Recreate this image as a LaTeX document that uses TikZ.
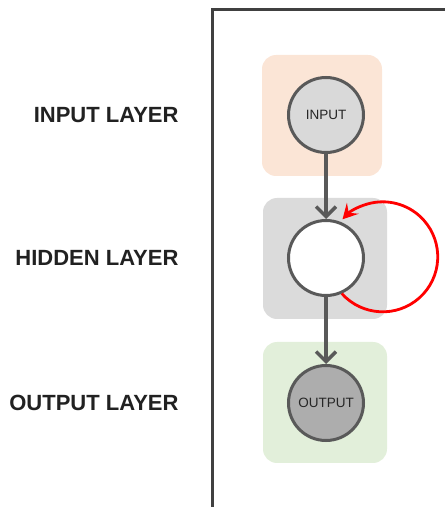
\documentclass[tikz,border=0pt]{standalone}
\usepackage{fontspec}
\setmainfont{Liberation Sans}
\usetikzlibrary{arrows.meta}

\definecolor{krawedz}{HTML}{595959}
\definecolor{pomarancz}{HTML}{FBE5D6}
\definecolor{szary}{HTML}{DBDBDB}
\definecolor{zielony}{HTML}{E2EFDA}

\begin{document}
\begin{tikzpicture}[x=1pt,y=1pt,
		warstwa/.style={fill=#1, rounded corners=14pt},
		neuron/.style={circle, draw=krawedz, line width=3pt, minimum size=75pt, inner sep=0pt,
			font=\fontsize{13.5}{16}\selectfont, text=black!85},
		opis/.style={anchor=east, font=\bfseries\fontsize{22}{26}\selectfont, text=black!87},
		strzalka/.style={draw=krawedz, line width=3.5pt, -{Straight Barb[length=10pt,width=20pt]}},
		petla/.style={draw=red, line width=2.8pt, -{Stealth[length=15pt,width=16pt,inset=6pt]}}]
	\useasboundingbox (0,0) rectangle (445,507);
	
	% Ramka
	\draw[black!75, line width=3pt] (212,-5) -- (212,497) -- (450,497);
	
	% Tla warstw
	\fill[warstwa=pomarancz] (262,331) rectangle (382,452);
	\fill[warstwa=szary] (263,188) rectangle (387,309);
	\fill[warstwa=zielony] (263,44) rectangle (387,165);
	
	% Neurony
	\node[neuron, fill=black!15] (wej) at (326,392) {INPUT};
	\node[neuron, fill=white] (ukr) at (326,249) {};
	\node[neuron, fill=black!32] (wyj) at (326,104) {OUTPUT};
	
	% Polaczenia
	\draw[strzalka] (wej) -- (ukr);
	\draw[strzalka] (ukr) -- (wyj);
	
	% Petla rekurencyjna
	\draw[petla] (ukr.-66) arc[start angle=222, end angle=497, radius=55];
	
	% Opisy warstw
	\node[opis] (opisWej) at (182,392) {INPUT LAYER};
	\node[opis] (opisUkr) at (182,249) {HIDDEN LAYER};
	\node[opis] (opisWyj) at (182,104) {OUTPUT LAYER};
\end{tikzpicture}
\end{document}
